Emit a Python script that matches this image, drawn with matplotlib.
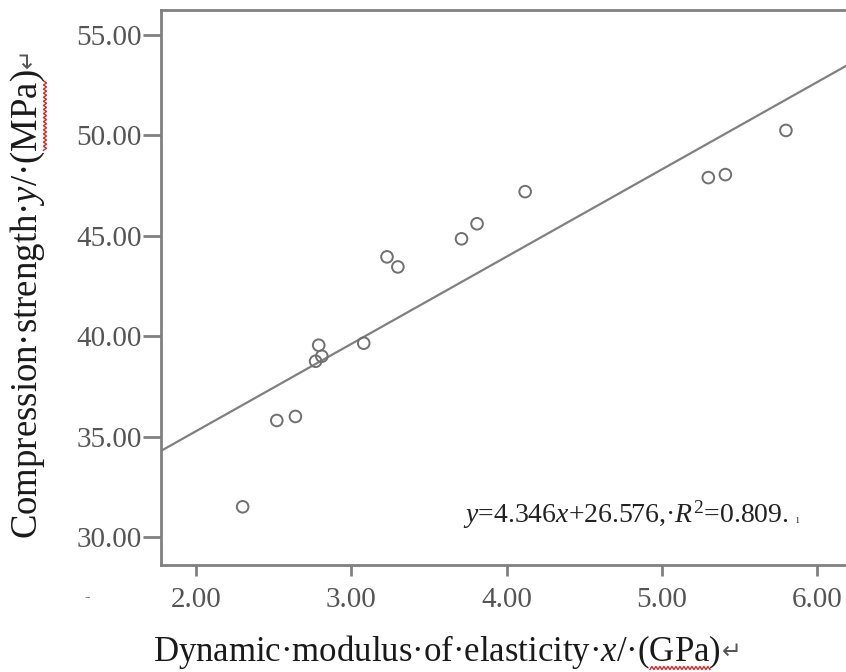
import numpy as np
import matplotlib
matplotlib.use("Agg")
import matplotlib.pyplot as plt
from matplotlib.lines import Line2D

plt.rcParams['font.family'] = ['Liberation Serif', 'DejaVu Serif', 'DejaVu Sans']
plt.rcParams['mathtext.fontset'] = 'custom'
plt.rcParams['mathtext.rm'] = 'Liberation Serif'
plt.rcParams['mathtext.it'] = 'Liberation Serif:italic'

# measured samples
modulus = [2.30, 2.52, 2.64, 2.77, 2.79, 2.81, 3.08, 3.23, 3.30,
           3.71, 3.81, 4.12, 5.30, 5.41, 5.80]
strength = [31.5, 35.8, 36.0, 38.75, 39.55, 39.0, 39.65, 43.95, 43.45,
            44.85, 45.6, 47.2, 47.9, 48.05, 50.25]

# fitted line
slope = 4.346
intercept = 26.576
r2 = 0.809

x_ticks = [2.0, 3.0, 4.0, 5.0, 6.0]
y_ticks = [30.0, 35.0, 40.0, 45.0, 50.0, 55.0]
xlim = (1.774, 6.187)
ylim = (28.6, 56.25)

xlabel_pre = r'Dynamic·modulus·of·elasticity·$x$/·('
xlabel_unit = 'GPa'
ylabel_pre = r'Compression·strength·$y$/·('
ylabel_unit = 'MPa'

W, H = 846, 672
fig = plt.figure(figsize=(W / 100, H / 100), dpi=100)
ax = fig.add_axes([161 / W, 107 / H, 685 / W, 555 / H])

grey = '#808080'
ax.scatter(modulus, strength, s=70, facecolors='none', edgecolors='#707070',
           linewidths=1.4, zorder=3)

xs = np.array(xlim)
ax.plot(xs, slope * xs + intercept, color='#808080', lw=1.6, zorder=2)

ax.set_xlim(*xlim)
ax.set_ylim(*ylim)
ax.set_xticks(x_ticks)
ax.set_yticks(y_ticks)
ax.set_xticklabels([f'{v:.2f}' for v in x_ticks])
ax.set_yticklabels([f'{v:.2f}' for v in y_ticks])

for side in ['left', 'bottom', 'top']:
    ax.spines[side].set_color(grey)
    ax.spines[side].set_linewidth(2)
ax.spines['right'].set_visible(False)

ax.tick_params(axis='y', length=13, width=2, color=grey, labelsize=21,
               labelcolor='#555555', pad=1)
ax.tick_params(axis='x', length=8, width=2, color=grey, labelsize=21,
               labelcolor='#555555', pad=8)

fig.text(463 / W, 1 - 515 / H,
         rf'$y$={slope}$x$+{intercept},·$R^2$={r2}.',
         fontsize=20, color='#222222', ha='left', va='center')
fig.text(797 / W, 1 - 520 / H, 'ı', fontsize=9, color='#444444',
         ha='center', va='center')
fig.text(87 / W, 1 - 597 / H, '-', fontsize=12, color='#666666',
         ha='center', va='center')

# axis titles, with Word-style return mark and spell-check squiggle
fig.canvas.draw()
renderer = fig.canvas.get_renderer()


def width_of(s, size):
    t = fig.text(0, 0, s, fontsize=size)
    w = t.get_window_extent(renderer).width
    t.remove()
    return w


def squiggle(x0, x1, y0, vertical=False):
    n = int(abs(x1 - x0) / 2) + 1
    u = np.linspace(x0, x1, n)
    v = y0 + 1.5 * np.where(np.arange(n) % 2 == 0, -1, 1)
    if vertical:
        u, v = v, u
    fig.add_artist(Line2D(u, v, transform=None, color='#e02020', lw=1))


xsize = 25
xl_full = xlabel_pre + xlabel_unit + ')'
xw = width_of(xl_full, xsize)
xc, yc = 437, H - 652
x_start = xc - xw / 2
fig.text(x_start, yc, xl_full, transform=None, ha='left', va='center',
         fontsize=xsize, color='#1a1a1a')
fig.text(x_start + xw + 1, yc, '↵', transform=None, ha='left', va='center',
         fontsize=17, color='#555555', family='DejaVu Sans')
u0 = x_start + width_of(xlabel_pre, xsize)
squiggle(u0, u0 + width_of(xlabel_unit, xsize), yc - 16)

ysize = 26.5
yl_full = ylabel_pre + ylabel_unit + ')'
yw = width_of(yl_full, ysize)
yx, ymid = 28, H - 304
y_start = ymid - yw / 2
fig.text(yx, y_start, yl_full, transform=None, ha='left', va='center',
         rotation=90, rotation_mode='anchor', fontsize=ysize, color='#1a1a1a')
fig.text(yx, y_start + yw + 1, '↵', transform=None, ha='left', va='center',
         rotation=90, rotation_mode='anchor', fontsize=17, color='#555555',
         family='DejaVu Sans')
v0 = y_start + width_of(ylabel_pre, ysize)
squiggle(v0, v0 + width_of(ylabel_unit, ysize), yx + 17, vertical=True)

fig.savefig('out.png', dpi=100)
